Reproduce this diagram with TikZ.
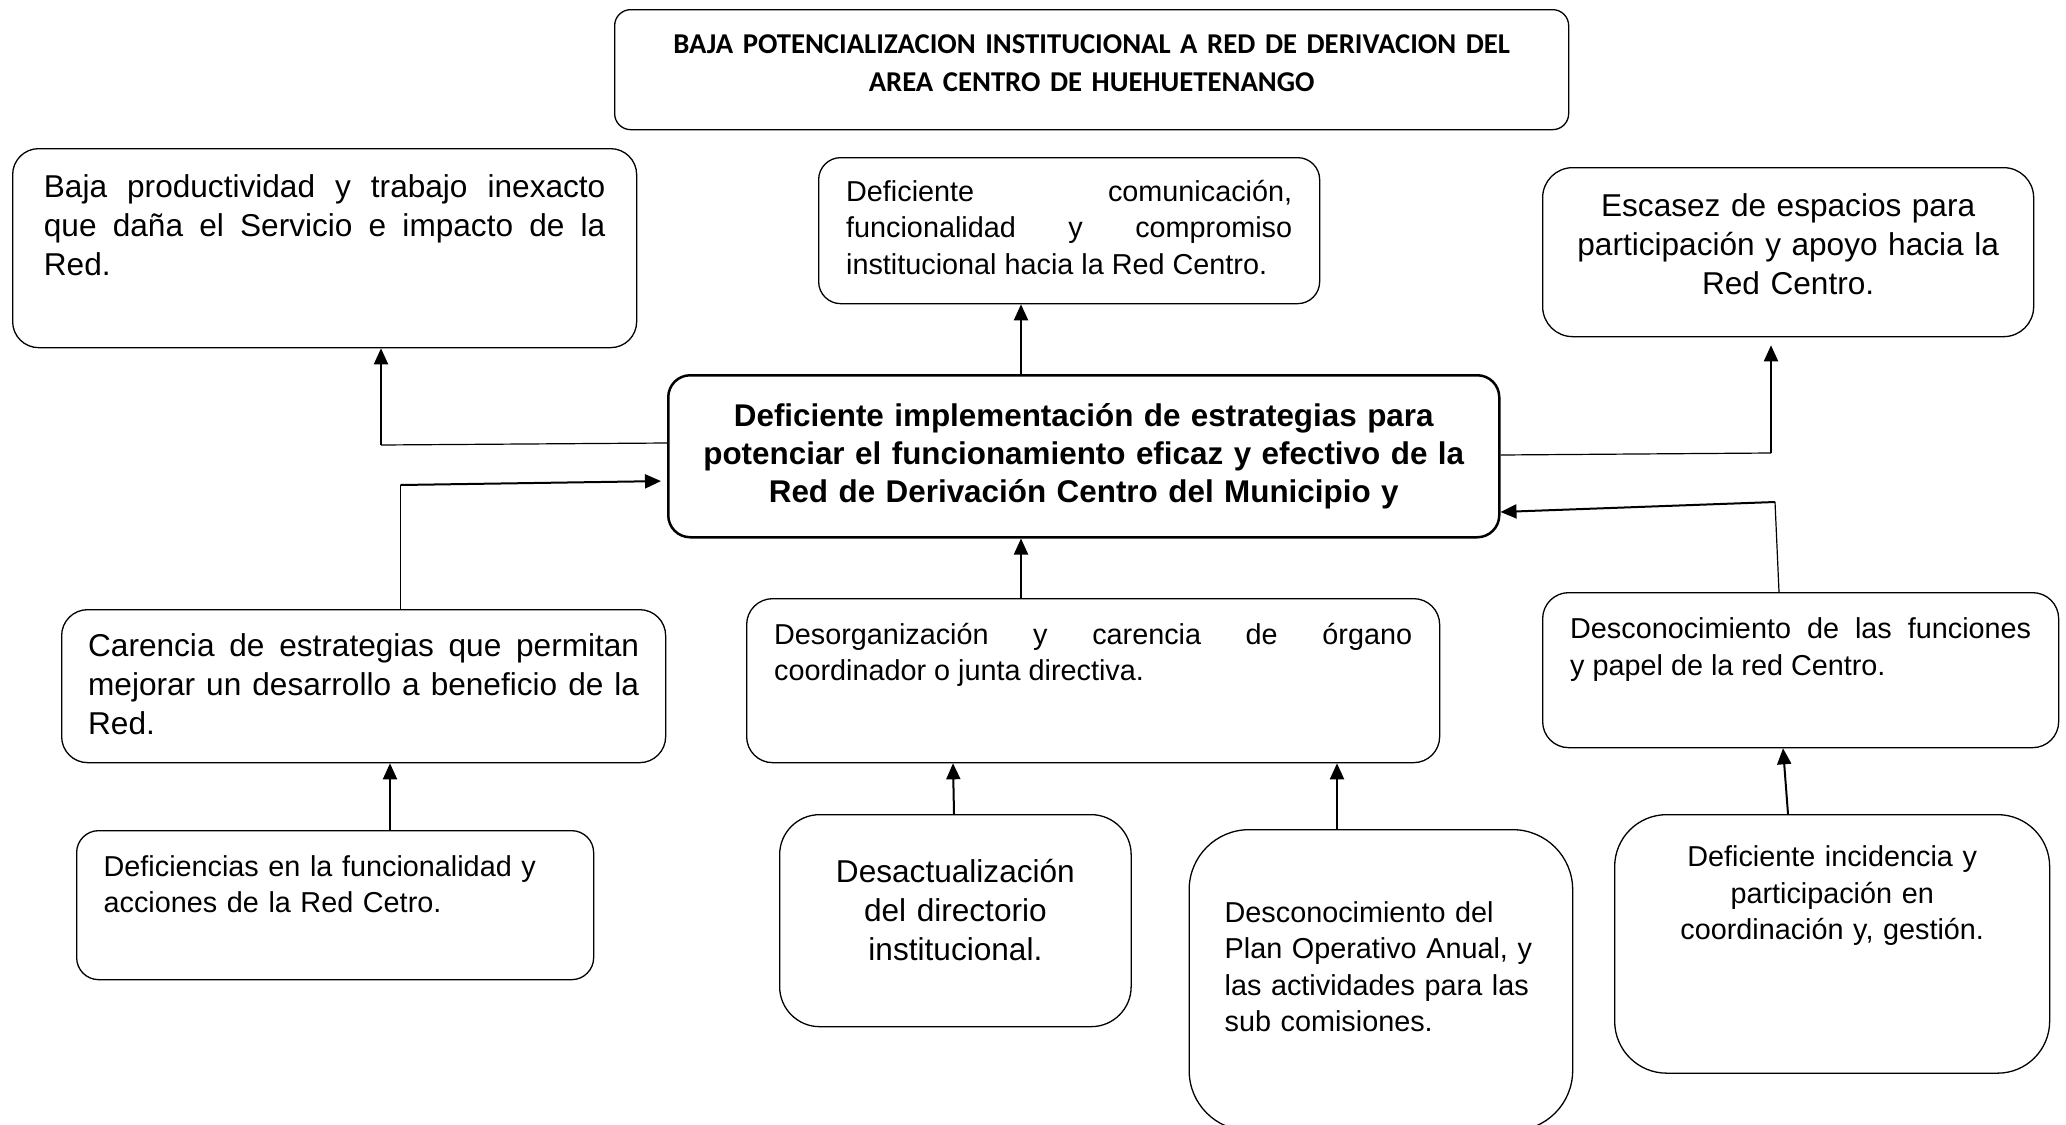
\documentclass[tikz,border=0pt]{standalone}
\usepackage{fontspec}
\setmainfont{Liberation Sans}
\newfontfamily\titlefont[WordSpace=0.7]{Carlito}
\usetikzlibrary{arrows.meta}
\newcommand{\bigtxt}{\fontsize{15.8pt}{19.5pt}\selectfont}
\newcommand{\smalltxt}{\fontsize{14.4pt}{18.2pt}\selectfont}
\tolerance=10000
\hyphenpenalty=10000

\begin{document}
\begin{tikzpicture}[x=0.5pt,y=-0.5pt,
	cell/.style={draw, line width=0.65pt, rounded corners=#1, anchor=north west, inner xsep=0pt, inner ysep=0pt},
	cell/.default=13pt,
	arr/.style={-{Triangle[length=8pt,width=7pt]}, line width=1pt},
	ln/.style={line width=0.6pt}]
\useasboundingbox (0,0) rectangle (2066,1124);

\node [cell=8pt, minimum width=477pt, text width=460pt, align=center, text height=21.9pt, text depth=38.1pt,
	font={\titlefont\fontsize{14.35pt}{19pt}\selectfont\bfseries}] (titulo) at (614,9)
	{BAJA POTENCIALIZACION INSTITUCIONAL A RED DE DERIVACION DEL\\AREA CENTRO DE HUEHUETENANGO};

% efectos
\node [cell, minimum width=312pt, text width=280.75pt, align=justify, text height=24.25pt, text depth=75.25pt, font=\bigtxt] (baja) at (12,148)
	{Baja productividad y trabajo inexacto\linebreak que daña el Servicio e impacto de la\linebreak Red.};
\node [cell=11pt, minimum width=250.5pt, text width=223pt, align=justify, text height=21.8pt, text depth=51.2pt, font=\smalltxt] (comun) at (818,157)
	{Deficiente comunicación,\linebreak funcionalidad y compromiso\linebreak institucional hacia la Red Centro.};
\node [cell=15pt, minimum width=245.5pt, text width=230pt, align=center, text height=24.5pt, text depth=60pt, font=\bigtxt] (escasez) at (1542,167)
	{Escasez de espacios para\\participación y apoyo hacia la\\Red Centro.};

% problema central
\node [cell=11pt, line width=1.25pt, minimum width=415.5pt, minimum height=81pt, text width=405pt, align=center,
	font={\fontsize{15.7pt}{19pt}\selectfont\bfseries}] (centro) at (667,374)
	{Deficiente implementación de estrategias para\\potenciar el funcionamiento eficaz y efectivo de la\\Red de Derivación Centro del Municipio y};

% causas
\node [cell, minimum width=302pt, text width=275.5pt, align=justify, text height=23.5pt, text depth=53pt, font=\bigtxt] (carencia) at (61,609)
	{Carencia de estrategias que permitan\linebreak mejorar un desarrollo a beneficio de la\linebreak Red.};
\node [cell, minimum width=346.5pt, text width=319pt, align=justify, text height=22.8pt, text depth=59.2pt, font=\smalltxt] (desorg) at (746,598)
	{Desorganización y carencia de órgano\linebreak coordinador o junta directiva.};
\node [cell, minimum width=258pt, text width=230.5pt, align=justify, text height=23pt, text depth=54.5pt, font=\smalltxt] (funciones) at (1542,592)
	{Desconocimiento de las funciones\linebreak y papel de la red Centro.};

\node [cell=11pt, minimum width=258.5pt, text width=231.5pt, align=left, text height=22.8pt, text depth=51.7pt, font=\smalltxt] (deficien) at (76,830)
	{Deficiencias en la funcionalidad y\\acciones de la Red Cetro.};
\node [cell=20pt, minimum width=175.75pt, text width=160pt, align=center, text height=33.75pt, text depth=72.25pt, font=\bigtxt] (desact) at (779,814)
	{Desactualización\\del directorio\\institucional.};
\node [cell=30pt, minimum width=191.75pt, text width=156.25pt, align=left, text height=46.3pt, text depth=104.2pt, font=\smalltxt] (plan) at (1188.5,829)
	{Desconocimiento del\\Plan Operativo Anual, y\\las actividades para las\\sub comisiones.};
\node [cell=26pt, minimum width=217.5pt, text width=200pt, align=center, text height=26pt, text depth=103.25pt, font=\smalltxt] (incid) at (1614,814)
	{Deficiente incidencia y\\participación en\\coordinación y, gestión.};

\coordinate (kA) at (381,445);
\coordinate (kD) at (400.5,485);
\coordinate (kC) at (1771,453);
\coordinate (kF) at (1775,502);

\draw [arr] (centro.north -| 1021,0) -- (comun.south -| 1021,0);
\draw [ln] (centro.west |- 0,443) -- (kA);
\draw [arr] (kA) -- (baja.south -| kA);
\draw [ln] (carencia.north -| kD) -- (kD);
\draw [arr, shorten >=3pt] (kD) -- (centro.west |- 0,481);
\draw [ln] (centro.east |- 0,455) -- (kC);
\draw [arr, shorten >=4pt] (kC) -- (escasez.south -| kC);
\draw [ln] (funciones.north -| 1779,0) -- (kF);
\draw [arr] (kF) -- (centro.east |- 0,512);
\draw [arr] (desorg.north -| 1021,0) -- (centro.south -| 1021,0);

\draw [arr] (deficien.north -| 390,0) -- (carencia.south -| 390,0);
\draw [arr] (desact.north -| 954,0) -- (desorg.south -| 953,0);
\draw [arr] (plan.north -| 1337,0) -- (desorg.south -| 1337,0);
\draw [arr] (incid.north -| 1788,0) -- (funciones.south -| 1783,0);
\end{tikzpicture}
\end{document}
